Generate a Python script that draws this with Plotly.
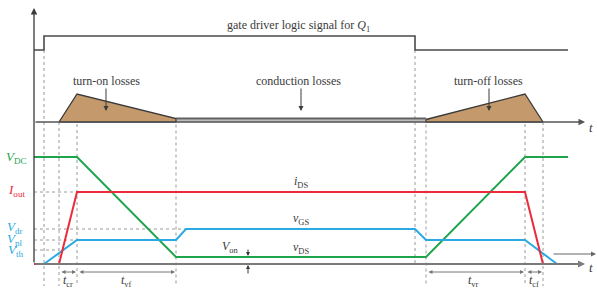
import plotly.graph_objects as go

# ---- time instants (horizontal position along t) ----
T_START = 34
t_gate_on, t_i_rise, t_i_full, t_v_low, t_g_dr = 44, 59, 77, 176, 186
t_gate_off, t_v_rise, t_v_high, t_i_zero, t_g_zero, T_END = 415, 426, 525, 543, 557, 568

# ---- signal levels (vertical, screen units of the diagram) ----
AX_TOP, AX_BOT = 122, 264
V_DC, I_OUT, V_DR, V_PL, V_TH, V_ON = 157, 192, 229, 240, 250, 257
GATE_LO, GATE_HI = 50, 36
LOSS_PEAK, LOSS_COND = 94, 118.5

# ---- waveforms ----
gate_t = [T_START, t_gate_on, t_gate_on, t_gate_off, t_gate_off, T_END]
gate_v = [GATE_LO, GATE_LO, GATE_HI, GATE_HI, GATE_LO, GATE_LO]

vds_t = [T_START, t_i_full, t_v_low, t_v_rise, t_v_high, T_END]
vds_v = [V_DC, V_DC, V_ON, V_ON, V_DC, V_DC]

ids_t = [T_START, t_i_rise, t_i_full, t_v_high, t_i_zero, T_END]
ids_v = [AX_BOT, AX_BOT, I_OUT, I_OUT, AX_BOT, AX_BOT]

vgs_t = [t_gate_on, t_i_full, t_v_low, t_g_dr, t_gate_off, t_v_rise, t_v_high, t_g_zero]
vgs_v = [AX_BOT, V_PL, V_PL, V_DR, V_DR, V_PL, V_PL, AX_BOT]

on_loss_t = [t_i_rise, t_i_full, t_v_low, t_v_low, t_i_rise]
on_loss_v = [AX_TOP, LOSS_PEAK, LOSS_COND, AX_TOP, AX_TOP]
off_loss_t = [t_v_rise, t_v_high, t_i_zero, t_v_rise, t_v_rise]
off_loss_v = [LOSS_COND + 1, LOSS_PEAK, AX_TOP, AX_TOP, LOSS_COND + 1]

GREEN, RED, BLUE = "#1ea44b", "#ec2a3a", "#2aaae2"
GRAY, DARK, TAN = "#8a8a8a", "#3a3a3a", "#c49a6c"
FONT = "Liberation Serif"

fig = go.Figure()

def line(x, y, color, width=2, dash=None, fill=None, fillcolor=None):
    fig.add_trace(go.Scatter(x=x, y=y, mode="lines", fill=fill, fillcolor=fillcolor,
                             line=dict(color=color, width=width, dash=dash),
                             hoverinfo="skip", showlegend=False))

# dotted guide lines
DOTC = "#9a9a9a"
for x0, y0, y1 in [(t_gate_on, GATE_LO, 286), (t_i_rise, AX_TOP, 286), (t_i_full, LOSS_PEAK, 286),
                   (t_v_low, LOSS_COND, 286), (t_gate_off, GATE_LO, AX_BOT), (t_v_rise, LOSS_COND, 286),
                   (t_v_high, LOSS_PEAK, 286), (t_i_zero, AX_TOP, 286)]:
    line([x0, x0], [y0, y1], DOTC, 1, "dot")
for y0, x1 in [(I_OUT, t_i_full), (V_DR, t_g_dr), (V_PL, t_i_full), (V_TH, t_i_rise)]:
    line([T_START, x1], [y0, y0], DOTC, 1, "dot")

# losses
line([t_v_low, t_v_rise, t_v_rise, t_v_low, t_v_low], [119.5, 119.5, AX_TOP, AX_TOP, 119.5],
     "#bdbdbd", 0.5, fill="toself", fillcolor="#bdbdbd")
line(on_loss_t, on_loss_v, DARK, 1.3, fill="toself", fillcolor=TAN)
line(off_loss_t, off_loss_v, DARK, 1.3, fill="toself", fillcolor=TAN)
line([t_v_low, t_v_rise], [LOSS_COND, LOSS_COND], "#606060", 2)

# gate signal
line(gate_t, gate_v, "#4a4a4a", 1.6)

# waveforms
line(vds_t, vds_v, GREEN, 2)
line(vgs_t, vgs_v, BLUE, 2)
line(ids_t, ids_v, RED, 2)

ann = []
def arrow(x0, y0, x1, y1, color=DARK, width=1, head=2, size=1, side="end"):
    ann.append(dict(x=x1, y=y1, ax=x0, ay=y0, xref="x", yref="y", axref="x", ayref="y",
                    text="", showarrow=True, arrowhead=head, arrowsize=size,
                    arrowwidth=width, arrowcolor=color, arrowside=side,
                    startarrowhead=head, startarrowsize=size, standoff=0, startstandoff=0))

def label(x, y, text, color=DARK, size=12, xanchor="center"):
    ann.append(dict(x=x, y=y, xref="x", yref="y", text=text, showarrow=False,
                    font=dict(family=FONT, size=size, color=color), xanchor=xanchor, yanchor="middle"))

# axes
arrow(T_START, AX_BOT, T_START, 8, DARK, 1.3, 2, 1)
arrow(T_START, AX_TOP, 585, AX_TOP, "#555555", 1.3, 2, 1)
arrow(T_START, AX_BOT, 585, AX_BOT, "#7a7a7a", 2, 2, 0.7)
label(591, 127, "<i>t</i>", DARK, 13)
label(591, 267, "<i>t</i>", DARK, 13)
arrow(552, 254, 596, 254, "#666666", 1, 2, 1)

# top labels
label(298, 26, "gate driver logic signal for <i>Q</i><sub>1</sub>", DARK, 12)
label(106, 81, "turn-on losses", DARK, 12)
label(298, 81, "conduction losses", DARK, 12)
label(488, 81, "turn-off losses", DARK, 12)
for xa in [106, 301, 489]:
    arrow(xa, 87, xa, 111, DARK, 1, 2, 1)

# level labels
label(16, 157, "<i>V</i><sub>DC</sub>", GREEN, 13)
label(16, 190, "<i>I</i><sub>out</sub>", RED, 13)
label(15, 227, "<i>V</i><sub>dr</sub>", BLUE, 13)
label(15, 239, "<i>V</i><sub>pl</sub>", BLUE, 13)
label(15, 250, "<i>V</i><sub>th</sub>", BLUE, 13)

# waveform labels
label(301, 182, "<i>i</i><sub>DS</sub>", DARK, 12)
label(301, 219, "<i>v</i><sub>GS</sub>", DARK, 12)
label(301, 248, "<i>v</i><sub>DS</sub>", DARK, 12)
label(241, 247, "<i>V</i><sub>on</sub>", DARK, 12, "right")
arrow(248, 248, 248, 256, DARK, 1, 2, 0.8)
arrow(248, 275, 248, 265, DARK, 1, 2, 0.8)

# time intervals
TY = 272
for a, b in [(t_i_rise, t_i_full), (t_i_full, t_v_low), (t_v_rise, t_v_high), (t_v_high, t_i_zero)]:
    arrow(a + 1, TY, b - 1, TY, "#777777", 1, 2, 0.8, "end+start")
label(68, 281, "<i>t</i><sub>cr</sub>", DARK, 12)
label(126, 281, "<i>t</i><sub>vf</sub>", DARK, 12)
label(473, 281, "<i>t</i><sub>vr</sub>", DARK, 12)
label(534, 281, "<i>t</i><sub>cf</sub>", DARK, 12)

fig.update_layout(width=597, height=289, margin=dict(l=0, r=0, t=0, b=0),
                  paper_bgcolor="white", plot_bgcolor="white", annotations=ann,
                  xaxis=dict(range=[0, 597], visible=False, fixedrange=True),
                  yaxis=dict(range=[289, 0], visible=False, fixedrange=True))
fig.write_html("out.html", config={"displayModeBar": False},
               post_script="document.body.style.margin='0';document.body.style.overflow='hidden';")
